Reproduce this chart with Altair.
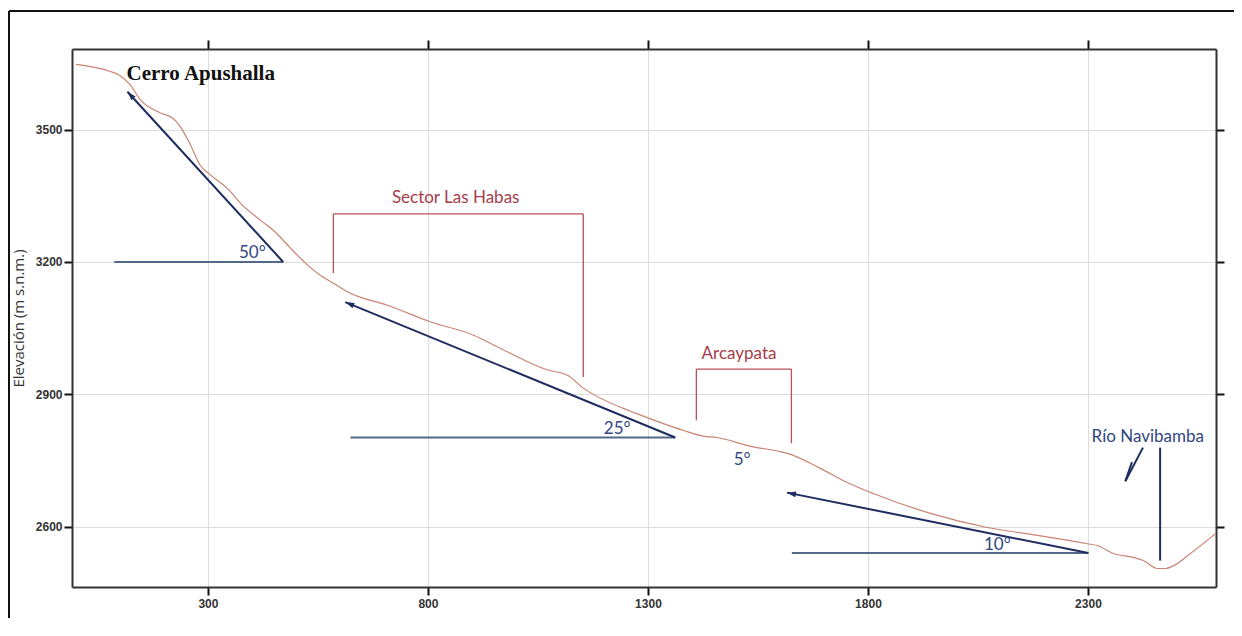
import math
import altair as alt
import pandas as pd

# ---------------- data ----------------
profile_dist = [0, 78, 96, 123, 146, 192, 219, 237, 260, 282, 305, 347, 373, 419, 453, 487, 521,
                555, 585, 624, 708, 806, 904, 965, 1072, 1117, 1153, 1244, 1267, 1381, 1426, 1457,
                1533, 1601, 1617, 1692, 1753, 1812, 1942, 2071, 2185, 2299, 2321, 2358, 2403,
                2426, 2458, 2476, 2494, 2533, 2590]
profile_elev = [3648, 3632, 3625, 3602, 3568, 3538, 3527, 3507, 3466, 3420, 3398, 3364, 3334,
                3295, 3268, 3232, 3198, 3170, 3152, 3129, 3102, 3064, 3034, 3004, 2955, 2943,
                2914, 2868, 2859, 2818, 2805, 2802, 2782, 2770, 2766, 2732, 2700, 2675, 2630,
                2598, 2580, 2561, 2557, 2539, 2530, 2523, 2505, 2505, 2511, 2539, 2584]

# slope arrows (tail -> head)
arrow_x1 = [471, 1362, 2301]
arrow_y1 = [3200, 2802, 2540]
arrow_x2 = [117, 612, 1616]
arrow_y2 = [3586, 3109, 2677]

# horizontal reference lines
level_x1 = [87, 624, 1627]
level_x2 = [471, 1362, 2301]
level_y = [3200, 2802, 2540]

# river marker segments
river_x1 = [2464, 2425, 2400]
river_y1 = [2779, 2779, 2746]
river_x2 = [2464, 2385, 2385]
river_y2 = [2523, 2703, 2703]

# brackets (polylines)
habas_x = [585, 585, 1153, 1153]
habas_y = [3175, 3309, 3309, 2939]
arcay_x = [1410, 1410, 1626, 1626]
arcay_y = [2841, 2957, 2957, 2789]

# labels
blue_text = ["50°", "25°", "5°", "10°", "Río Navibamba"]
blue_x = [401, 1230, 1514, 2094, 2436]
blue_y = [3220, 2822, 2750, 2559, 2804]
red_text = ["Sector Las Habas", "Arcaypata"]
red_x = [863, 1507]
red_y = [3346, 2991]
peak_text = ["Cerro Apushalla"]
peak_x = [115]
peak_y = [3627]

x_ticks = [300, 800, 1300, 1800, 2300]
y_ticks = [2600, 2900, 3200, 3500]

# ---------------- styling ----------------
W, H = 1144, 538
XDOM = [-9, 2591]
YDOM = [2463, 3683]
NAVY = "#1e2c5f"
SLATE = "#53698c"
TXT_BLUE = "#2f4580"
RED = "#b2525a"
RED_TXT = "#a63c48"
LINE = "#c98472"


def xs():
    return alt.Scale(domain=XDOM, nice=False, zero=False)


def ys():
    return alt.Scale(domain=YDOM, nice=False, zero=False)


def X(f, axis=None):
    return alt.X(f, type="quantitative", scale=xs(), axis=axis)


def Y(f, axis=None):
    return alt.Y(f, type="quantitative", scale=ys(), axis=axis)


common_axis = dict(
    format="d",
    labelFont="Liberation Sans", labelFontWeight="bold", labelFontSize=12, labelColor="#333",
    tickColor="#111", tickWidth=2, tickSize=8, domainColor="#333", domainWidth=2,
    gridColor="#dddddd", gridWidth=1,
)

x_bottom = alt.Axis(values=x_ticks, orient="bottom", title=None, grid=True, labelPadding=3, **common_axis)
y_left = alt.Axis(values=y_ticks, orient="left", grid=True, labelPadding=2,
                  title="Elevación (m s.n.m.)", titleFont="Open Sans", titleFontWeight="normal",
                  titleFontSize=15, titleColor="#333", titleAngle=270, titleX=-54, titleY=269,
                  titleAlign="center", titleBaseline="middle", **common_axis)
x_top = alt.Axis(values=x_ticks, orient="top", title=None, grid=False, labels=False,
                 tickColor="#111", tickWidth=2, tickSize=9, domainColor="#333", domainWidth=2)
y_right = alt.Axis(values=y_ticks, orient="right", title=None, grid=False, labels=False,
                   tickColor="#111", tickWidth=2, tickSize=8, domainColor="#333", domainWidth=2)

# ---------------- tables ----------------
prof = pd.DataFrame({"x": profile_dist, "y": profile_elev})

px_x = W / (XDOM[1] - XDOM[0])
px_y = H / (YDOM[1] - YDOM[0])
arrows = pd.DataFrame({"x": arrow_x1, "y": arrow_y1, "x2": arrow_x2, "y2": arrow_y2})
arrows["angle"] = [
    (math.degrees(math.atan2((b - a) * px_x, (d - c) * px_y)) + 360) % 360
    for a, b, c, d in zip(arrow_x1, arrow_x2, arrow_y1, arrow_y2)
]
levels = pd.DataFrame({"x": level_x1, "x2": level_x2, "y": level_y})
river = pd.DataFrame({"x": river_x1, "y": river_y1, "x2": river_x2, "y2": river_y2})


def segs(xs_, ys_):
    return pd.DataFrame({"x": xs_[:-1], "y": ys_[:-1], "x2": xs_[1:], "y2": ys_[1:]})


brackets = pd.concat([segs(habas_x, habas_y), segs(arcay_x, arcay_y)], ignore_index=True)
blue_lab = pd.DataFrame({"t": blue_text, "x": blue_x, "y": blue_y})
red_lab = pd.DataFrame({"t": red_text, "x": red_x, "y": red_y})
peak_lab = pd.DataFrame({"t": peak_text, "x": peak_x, "y": peak_y})

# ---------------- layers ----------------
one = pd.DataFrame({"a": [0]})
frame_top = alt.Chart(one).mark_rule(color="#111", strokeWidth=2, clip=False).encode(
    x=alt.value(-63), x2=alt.value(1400), y=alt.value(-38)
)
frame_left = alt.Chart(one).mark_rule(color="#111", strokeWidth=2, clip=False).encode(
    x=alt.value(-63), y=alt.value(-38), y2=alt.value(1000)
)

profile = alt.Chart(prof).mark_line(color=LINE, strokeWidth=1.2, interpolate="monotone").encode(
    x=X("x", x_bottom), y=Y("y", y_left)
)
mirror = alt.Chart(prof).mark_point(opacity=0).encode(x=X("x", x_top), y=Y("y", y_right))

level_rules = alt.Chart(levels).mark_rule(color=SLATE, strokeWidth=2).encode(
    x=X("x"), x2="x2", y=Y("y")
)
arrow_rules = alt.Chart(arrows).mark_rule(color=NAVY, strokeWidth=2).encode(
    x=X("x"), y=Y("y"), x2="x2", y2="y2"
)
arrow_heads = alt.Chart(arrows).mark_point(
    shape="M0,0L0.6,1.9L-0.6,1.9Z", filled=True, color=NAVY, size=90, opacity=1
).encode(x=X("x2"), y=Y("y2"), angle=alt.Angle("angle:Q", scale=None))
river_rules = alt.Chart(river).mark_rule(color=NAVY, strokeWidth=2).encode(
    x=X("x"), y=Y("y"), x2="x2", y2="y2"
)
bracket_rules = alt.Chart(brackets).mark_rule(color=RED, strokeWidth=1.3).encode(
    x=X("x"), y=Y("y"), x2="x2", y2="y2"
)
blue_text_l = alt.Chart(blue_lab).mark_text(
    font="Lato", fontSize=17, color=TXT_BLUE, align="center", baseline="middle"
).encode(x=X("x"), y=Y("y"), text="t:N")
red_text_l = alt.Chart(red_lab).mark_text(
    font="Lato", fontSize=17, color=RED_TXT, align="center", baseline="middle"
).encode(x=X("x"), y=Y("y"), text="t:N")
peak_text_l = alt.Chart(peak_lab).mark_text(
    font="Liberation Serif", fontSize=21, fontWeight="bold", color="#111",
    align="left", baseline="middle"
).encode(x=X("x"), y=Y("y"), text="t:N")

chart = alt.layer(
    frame_top, frame_left, profile, mirror, level_rules, arrow_rules, arrow_heads, river_rules,
    bracket_rules, blue_text_l, red_text_l, peak_text_l
).resolve_axis(x="independent", y="independent").properties(
    width=W, height=H,
    padding={"left": 64, "top": 41, "right": 18, "bottom": 31},
    autosize=alt.AutoSizeParams(type="none"),
    background="white",
).configure_view(stroke=None)

chart.save("out.html", embed_options={"renderer": "svg", "actions": False})
